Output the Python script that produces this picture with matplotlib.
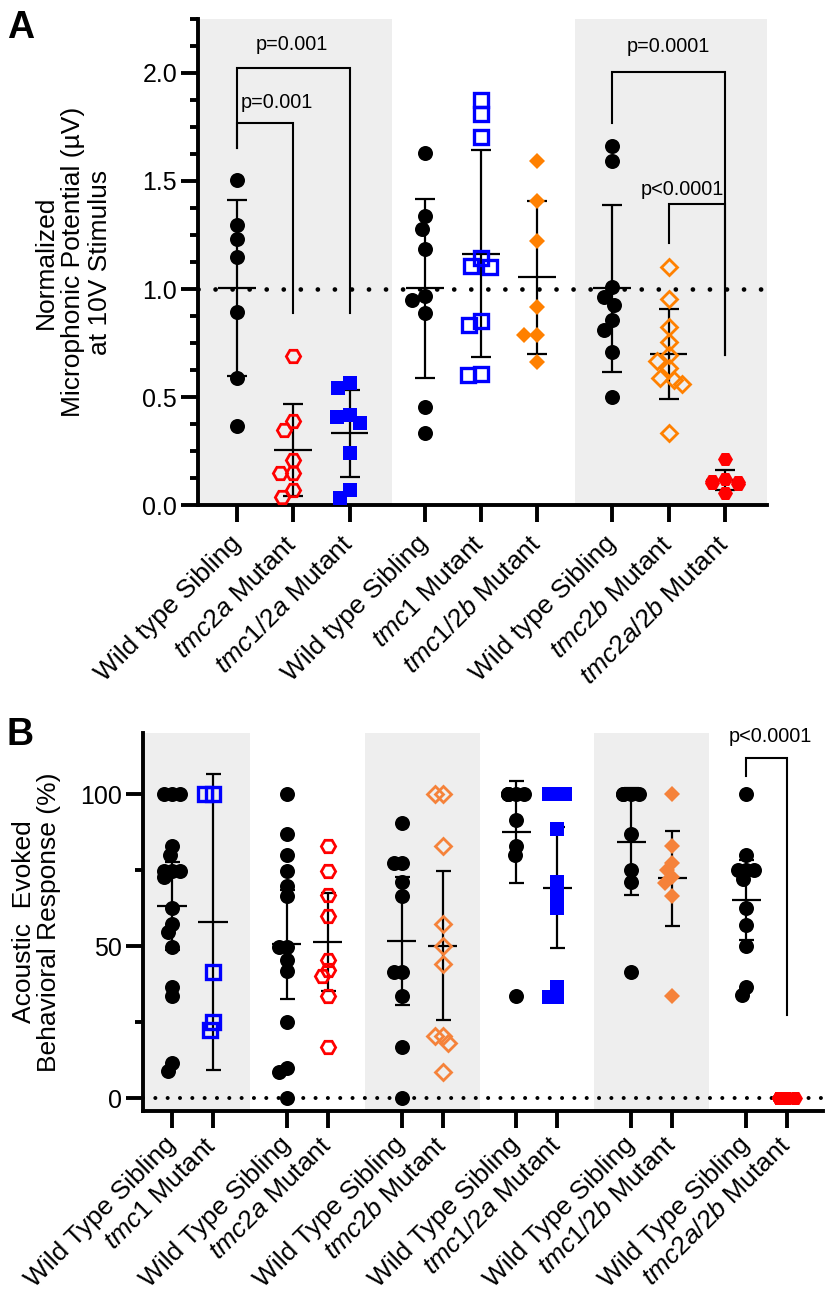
import numpy as np
import matplotlib
matplotlib.use('Agg')
import matplotlib.pyplot as plt
from matplotlib.ticker import MultipleLocator, FormatStrFormatter

plt.rcParams['font.family'] = ['Liberation Sans', 'DejaVu Sans']
plt.rcParams['mathtext.fontset'] = 'custom'
plt.rcParams['mathtext.rm'] = 'Liberation Sans'
plt.rcParams['mathtext.it'] = 'Liberation Sans:italic'

#%% data - panel A (normalized microphonic potential, mean +/- SD)
a_labels = ['Wild type Sibling', r'$\mathit{tmc2a}$ Mutant', r'$\mathit{tmc1/2a}$ Mutant',
            'Wild type Sibling', r'$\mathit{tmc1}$ Mutant', r'$\mathit{tmc1/2b}$ Mutant',
            'Wild type Sibling', r'$\mathit{tmc2b}$ Mutant', r'$\mathit{tmc2a/2b}$ Mutant']
a_wt_2a   = [1.504, 1.296, 1.230, 1.147, 0.896, 0.588, 0.367]
a_tmc2a   = [0.691, 0.392, 0.349, 0.210, 0.148, 0.148, 0.071, 0.040]
a_tmc12a  = [0.565, 0.541, 0.418, 0.410, 0.382, 0.241, 0.071, 0.033]
a_wt_1    = [1.628, 1.338, 1.279, 1.184, 0.968, 0.950, 0.888, 0.454, 0.336]
a_tmc1    = [1.874, 1.808, 1.705, 1.145, 1.107, 1.101, 0.854, 0.834, 0.607, 0.604]
a_tmc12b  = [1.592, 1.407, 1.224, 0.919, 0.786, 0.786, 0.664]
a_wt_2b   = [1.662, 1.594, 1.011, 0.965, 0.926, 0.857, 0.811, 0.711, 0.500]
a_tmc2b   = [1.104, 0.953, 0.826, 0.757, 0.695, 0.669, 0.634, 0.588, 0.580, 0.561, 0.333]
a_tmc2a2b = [0.213, 0.120, 0.115, 0.110, 0.105, 0.100, 0.059]

#%% data - panel B (acoustic evoked behavioral response %, mean +/- 95% CI)
b_labels = ['Wild Type Sibling', r'$\mathit{tmc1}$ Mutant',
            'Wild Type Sibling', r'$\mathit{tmc2a}$ Mutant',
            'Wild Type Sibling', r'$\mathit{tmc2b}$ Mutant',
            'Wild Type Sibling', r'$\mathit{tmc1/2a}$ Mutant',
            'Wild Type Sibling', r'$\mathit{tmc1/2b}$ Mutant',
            'Wild Type Sibling', r'$\mathit{tmc2a/2b}$ Mutant']
b_wt_1     = [100, 100, 100, 82.8, 79.9, 74.7, 74.7, 74.7, 72.7, 62.4, 57.4, 54.7, 49.8, 36.6, 33.6, 11.7, 9.1]
b_tmc1     = [100, 100, 41.6, 25.2, 22.4]
b_wt_2a    = [100, 87.0, 79.9, 74.7, 69.8, 66.4, 49.8, 49.8, 45.6, 41.9, 25.2, 9.8, 8.7, 0]
b_tmc2a    = [82.8, 74.6, 66.7, 59.8, 45.6, 42.3, 40.1, 33.6, 16.9]
b_wt_2b    = [90.5, 77.3, 77.3, 71.1, 66.5, 41.6, 41.6, 33.6, 16.9, 0]
b_tmc2b    = [100, 100, 82.9, 57.2, 50.0, 44.3, 20.5, 20.5, 18.1, 8.7]
b_wt_12a   = [100, 100, 100, 100, 100, 91.4, 82.8, 79.9, 33.6]
b_tmc12a   = [100, 100, 100, 88.6, 71.1, 66.7, 62.4, 36.6, 33.3, 33.3]
b_wt_12b   = [100, 100, 100, 100, 87.0, 75.0, 71.1, 41.6]
b_tmc12b   = [100, 82.8, 77.3, 75.0, 72.7, 70.8, 66.4, 33.6]
b_wt_2a2b  = [100, 79.9, 75.0, 75.0, 75.0, 72.2, 62.4, 56.9, 50.0, 36.6, 33.9]
b_tmc2a2b  = [0, 0, 0, 0, 0, 0, 0, 0]

# two sided t quantiles (0.975) for the confidence intervals
T975 = {1: 12.706, 2: 4.303, 3: 3.182, 4: 2.776, 5: 2.571, 6: 2.447, 7: 2.365,
        8: 2.306, 9: 2.262, 10: 2.228, 11: 2.201, 12: 2.179, 13: 2.160,
        14: 2.145, 15: 2.131, 16: 2.120, 17: 2.110, 18: 2.101, 19: 2.093, 20: 2.086}

#%% styles
ORANGE_A = '#FF8000'
ORANGE_B = '#F5823A'
GRAY = '#EEEEEE'
black_dot  = dict(marker='o', ms=10.8, mfc='black', mec='black', mew=0)
red_open   = dict(marker='H', ms=10.3, mfc='none', mec='#FF0000', mew=2.0)
red_fill   = dict(marker='H', ms=10.8, mfc='#FF0000', mec='#FF0000', mew=0)
blue_fill  = dict(marker='s', ms=9.8, mfc='#0000FF', mec='#0000FF', mew=0)
blue_open  = dict(marker='s', ms=10.4, mfc='none', mec='#0000FF', mew=2.4)
orA_fill   = dict(marker='D', ms=8.4, mfc=ORANGE_A, mec=ORANGE_A, mew=0)
orA_open   = dict(marker='D', ms=7.9, mfc='none', mec=ORANGE_A, mew=2.0)
orB_fill   = dict(marker='D', ms=8.4, mfc=ORANGE_B, mec=ORANGE_B, mew=0)
orB_open   = dict(marker='D', ms=7.9, mfc='none', mec=ORANGE_B, mew=2.0)


def swarm_offsets(vals, sx, sy, d, cap):
    # simple beeswarm in pixel space, returned in data units
    vals = np.asarray(vals, float)
    order = np.argsort(-vals, kind='stable')
    px, py = [], []
    offs = np.zeros(len(vals))
    for i in order:
        y = vals[i] * sy
        bad = []
        for xx, yy in zip(px, py):
            dy = abs(y - yy)
            if dy < d:
                w = np.sqrt(d * d - dy * dy)
                bad.append((xx - w, xx + w))
        cands = sorted([0.0] + [b for iv in bad for b in iv], key=abs)
        x = 0.0
        for c in cands:
            if all(not (lo + 1e-6 < c < hi - 1e-6) for lo, hi in bad):
                x = c
                break
        x = float(np.clip(x, -cap, cap))
        px.append(x)
        py.append(y)
        offs[i] = x / sx
    return offs


def px_scale(ax):
    p0 = ax.transData.transform((0, 0))
    p1 = ax.transData.transform((1, 1))
    return p1[0] - p0[0], p1[1] - p0[1]


def draw_group(ax, x, vals, style, err, half, capsize, d, cap):
    vals = np.asarray(vals, float)
    m = vals.mean()
    sd = vals.std(ddof=1)
    e = sd if err == 'sd' else T975[len(vals) - 1] * sd / np.sqrt(len(vals))
    ax.errorbar(x, m, yerr=e, fmt='none', ecolor='black', elinewidth=1.6,
                capsize=capsize, capthick=1.6, zorder=3)
    ax.plot([x - half, x + half], [m, m], color='black', lw=1.6, zorder=3,
            solid_capstyle='butt')
    sx, sy = px_scale(ax)
    offs = swarm_offsets(vals, sx, sy, d, cap)
    ax.plot(x + offs, vals, linestyle='none', zorder=4, clip_on=False, **style)


def bracket(ax, x1, x2, y1, ytop, y2):
    ax.plot([x1, x1, x2, x2], [y1, ytop, ytop, y2], color='black', lw=1.5,
            zorder=5, clip_on=False, solid_joinstyle='miter')


def style_axis(ax, xpad):
    for s in ['top', 'right']:
        ax.spines[s].set_visible(False)
    for s in ['left', 'bottom']:
        ax.spines[s].set_linewidth(2.8)
    ax.tick_params(which='major', length=12, width=2.8, labelsize=18, pad=3)
    ax.tick_params(which='minor', length=6, width=2.8)
    ax.tick_params(axis='x', which='minor', length=0)
    ax.tick_params(axis='x', which='major', pad=xpad)


fig = plt.figure(figsize=(8.26, 12.95), dpi=100)

#%% panel A
axA = fig.add_axes([198 / 826, 1 - 505.4 / 1295, 569 / 826, 486.8 / 1295])
pos_a = np.arange(9) + (np.arange(9) // 3) / 3.0
axA.set_xlim(-0.693, 9.414)
axA.set_ylim(0, 2.25)
axA.axvspan(-0.693, 2.75, color=GRAY, lw=0, zorder=0)
axA.axvspan(6.0, 9.414, color=GRAY, lw=0, zorder=0)
axA.axhline(1.0, color='black', lw=3.4, linestyle=(0, (0.01, 3.6)),
            dash_capstyle='round', zorder=1)

groups_a = [(a_wt_2a, black_dot), (a_tmc2a, red_open), (a_tmc12a, blue_fill),
            (a_wt_1, black_dot), (a_tmc1, blue_open), (a_tmc12b, orA_fill),
            (a_wt_2b, black_dot), (a_tmc2b, orA_open), (a_tmc2a2b, red_fill)]
for x, (vals, st) in zip(pos_a, groups_a):
    draw_group(axA, x, vals, st, 'sd', 0.335, 7, 13, 13)

bracket(axA, pos_a[0], pos_a[2], 1.651, 2.021, 0.889)
bracket(axA, pos_a[0], pos_a[1], 1.651, 1.767, 0.889)
bracket(axA, pos_a[6], pos_a[8], 1.769, 2.005, 0.695)
bracket(axA, pos_a[7], pos_a[8], 1.214, 1.393, 0.695)
axA.text(0.98, 2.129, 'p=0.001', ha='center', va='center', fontsize=14.3)
axA.text(0.71, 1.86, 'p=0.001', ha='center', va='center', fontsize=14.3)
axA.text(7.67, 2.12, 'p=0.0001', ha='center', va='center', fontsize=14.3)
axA.text(7.91, 1.461, 'p<0.0001', ha='center', va='center', fontsize=14.3)

style_axis(axA, 13)
axA.yaxis.set_major_locator(MultipleLocator(0.5))
axA.yaxis.set_minor_locator(MultipleLocator(0.125))
axA.yaxis.set_major_formatter(FormatStrFormatter('%.1f'))
axA.set_xticks(pos_a)
axA.set_xticklabels(a_labels, rotation=45, ha='right', va='center',
                    rotation_mode='anchor', fontsize=19)
axA.set_ylabel('Normalized\nMicrophonic Potential (\u00b5V)\nat 10V Stimulus',
               fontsize=19, linespacing=1.15, va='center', ha='center')
axA.yaxis.set_label_coords(-0.22, 0.5)

#%% panel B
axB = fig.add_axes([143 / 826, 1 - 1110.7 / 1295, 679.7 / 826, 377.4 / 1295])
pos_b = np.arange(12) + (np.arange(12) // 2) * 0.8
axB.set_xlim(-0.707, 15.87)
axB.set_ylim(-4.08, 120)
for lo, hi in [(-0.707, 1.9), (4.7, 7.5), (10.3, 13.1)]:
    axB.axvspan(lo, hi, color=GRAY, lw=0, zorder=0)
axB.axhline(0, color='black', lw=2.9, linestyle=(0, (0.01, 3.05)),
            dash_capstyle='round', zorder=1)

groups_b = [(b_wt_1, black_dot), (b_tmc1, blue_open),
            (b_wt_2a, black_dot), (b_tmc2a, red_open),
            (b_wt_2b, black_dot), (b_tmc2b, orB_open),
            (b_wt_12a, black_dot), (b_tmc12a, blue_fill),
            (b_wt_12b, black_dot), (b_tmc12b, orB_fill),
            (b_wt_2a2b, black_dot), (b_tmc2a2b, red_fill)]
for x, (vals, st) in zip(pos_b, groups_b):
    draw_group(axB, x, vals, st, 'ci', 0.354, 5.4, 9, 8)

bracket(axB, pos_b[10], pos_b[11], 105.8, 111.8, 27.3)
axB.text(14.59, 119.1, 'p<0.0001', ha='center', va='center', fontsize=14.3,
         clip_on=False)

style_axis(axB, 10)
axB.yaxis.set_major_locator(MultipleLocator(50))
axB.yaxis.set_minor_locator(MultipleLocator(25))
axB.set_xticks(pos_b)
axB.set_xticklabels(b_labels, rotation=45, ha='right', va='center',
                    rotation_mode='anchor', fontsize=19)
axB.set_ylabel('Acoustic  Evoked\nBehavioral Response (%)', fontsize=19,
               linespacing=1.05, va='center', ha='center')
axB.yaxis.set_label_coords(-0.156, 0.5)

#%% panel letters
fig.text(0.008, 0.992, 'A', fontsize=27, fontweight='bold', va='top')
fig.text(0.008, 0.446, 'B', fontsize=27, fontweight='bold', va='top')

fig.savefig('out.png', dpi=100)
